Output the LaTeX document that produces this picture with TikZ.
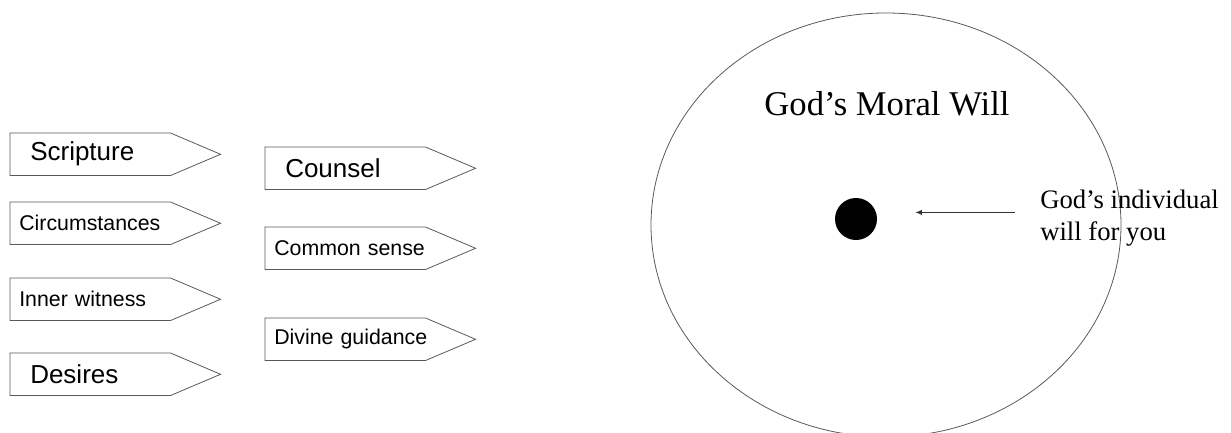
\documentclass[tikz,border=0pt]{standalone}
\usepackage{fontspec}
\setmainfont{Liberation Serif}
\newfontfamily\arialfont{Liberation Sans}
\usetikzlibrary{arrows.meta,shapes.geometric}

\begin{document}
\begin{tikzpicture}[x=0.75pt,y=-0.75pt,
  tagbox/.style={minimum height=31.5pt,inner ysep=0pt,anchor=north west,align=left,
    execute at begin node={\hbox\bgroup},execute at end node={\egroup}},
  bigtag/.style={tagbox,inner xsep=15pt,text width=90pt,font=\arialfont\fontsize{19.5}{22}\selectfont},
  smalltag/.style={tagbox,inner xsep=6.75pt,text width=106.5pt,font=\arialfont\fontsize{16}{19}\selectfont},
  tagline/.style={draw=black!65,line width=0.6pt}]
  \useasboundingbox (0,0) rectangle (1231,432);
  \clip (0,0) rectangle (1231,432);

  % ways of finding guidance
  \node[bigtag] (scripture) at (10,133) {Scripture};
  \node[smalltag] (circum) at (10,202) {Circumstances};
  \node[smalltag] (inner) at (10,278) {Inner witness};
  \node[bigtag] (desires) at (10,353) {Desires};
  \node[bigtag] (counsel) at (265,147) {Counsel};
  \node[smalltag] (common) at (265,227) {Common sense};
  \node[smalltag] (divine) at (265,318) {Divine guidance};
  \foreach \n in {scripture,circum,inner,desires,counsel,common,divine}
    \draw[tagline] (\n.north west) -- (\n.north east) -- ([xshift=37.5pt]\n.east) -- (\n.south east) -- (\n.south west) -- cycle;

  % the two wills
  \node[draw=black!65,line width=0.6pt,ellipse,minimum width=352.5pt,minimum height=318pt,inner sep=0pt] (moral) at (886,225) {};
  \node[anchor=base,font=\fontsize{26}{30}\selectfont] (title) at (887,115) {God’s Moral Will};
  \node[circle,fill=black,minimum size=31.5pt,inner sep=0pt] (you) at (856,219) {};
  \node[anchor=north west,align=left,inner sep=0pt,font=\fontsize{20}{24}\selectfont] (indiv) at (1040,190) {God’s individual\\will for you};
  \draw[black!80,line width=0.75pt,-{Latex[length=5pt,width=4pt]},shorten <=18.75pt,shorten >=28.5pt]
    ([yshift=4.5pt]indiv.west) -- ([yshift=4.5pt]indiv.west -| you.east);
\end{tikzpicture}
\end{document}
